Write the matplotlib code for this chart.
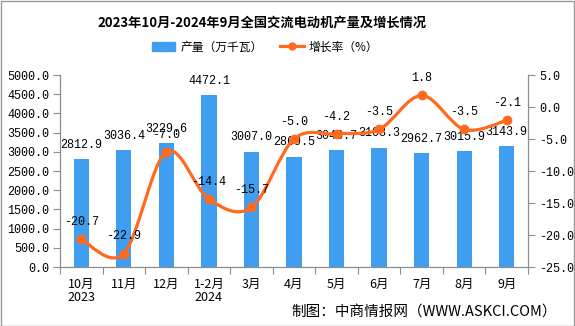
import numpy as np
import matplotlib
matplotlib.use("Agg")
import matplotlib.pyplot as plt
from matplotlib.path import Path
from matplotlib.patches import PathPatch, Rectangle
from matplotlib.lines import Line2D
from matplotlib.patches import Patch

plt.rcParams['font.family'] = ['Noto Sans CJK SC', 'DejaVu Sans']

# data
months = ['10月\n2023', '11月', '12月', '1-2月\n2024', '3月', '4月', '5月',
          '6月', '7月', '8月', '9月']
output = [2812.9, 3036.4, 3229.6, 4472.1, 3007.0, 2869.5, 3046.7,
          3108.3, 2962.7, 3015.9, 3143.9]
growth = [-20.7, -22.9, -7.0, -14.4, -15.7, -5.0, -4.2, -3.5, 1.8, -3.5, -2.1]

BAR = '#3F9EF0'
LINE = '#FF6A1F'
AXC = '#8C8C8C'
NUM = 'Liberation Mono'

fig = plt.figure(figsize=(5.75, 3.26), dpi=100)
W, H = 575, 326
ax = fig.add_axes([60 / W, 1 - 267 / H, 468 / W, 192 / H])
ax2 = ax.twinx()

x = np.arange(len(months))
ax.bar(x, output, width=0.36, color=BAR, zorder=2)
ax.set_xlim(-0.5, len(months) - 0.5)
ax.set_ylim(0, 5000)
ax.set_yticks(np.arange(0, 5001, 500))
ax.set_yticklabels(['%.1f' % v for v in np.arange(0, 5001, 500)],
                   family=NUM, fontsize=8.5)

for xi, v in zip(x, output):
    ax.annotate('%.1f' % v, (xi, v), xytext=(0, 6), textcoords='offset points',
                ha='center', va='bottom', family=NUM, fontsize=8.5)

# smoothed growth line (Catmull-Rom as cubic Bezier)
pts = np.column_stack([x, growth]).astype(float)
verts = [pts[0]]
codes = [Path.MOVETO]
n = len(pts)
for i in range(n - 1):
    p0 = pts[max(i - 1, 0)]
    p1 = pts[i]
    p2 = pts[i + 1]
    p3 = pts[min(i + 2, n - 1)]
    verts += [p1 + (p2 - p0) / 6, p2 - (p3 - p1) / 6, p2]
    codes += [Path.CURVE4] * 3
ax2.add_patch(PathPatch(Path(verts, codes), facecolor='none', edgecolor=LINE,
                        lw=2.3, zorder=3))
ax2.plot(x, growth, 'o', color=LINE, ms=6, zorder=4)
for xi, v in zip(x, growth):
    ax2.annotate('%.1f' % v, (xi, v), xytext=(0, 8), textcoords='offset points',
                 ha='center', va='bottom', family=NUM, fontsize=8.5)

ax2.set_ylim(-25, 5)
ax2.set_yticks(np.arange(-25, 6, 5))
ax2.set_yticklabels(['%.1f' % v for v in np.arange(-25, 6, 5)],
                    family=NUM, fontsize=8.5)

# x ticks at category boundaries, labels at centers
ax.set_xticks(np.arange(-0.5, len(months), 1))
ax.set_xticklabels([])
ax.set_xticks(x, minor=True)
ax.set_xticklabels(months, minor=True, fontsize=9, linespacing=1.0)
ax.tick_params(axis='x', which='minor', length=0, pad=8)
ax.tick_params(axis='x', which='major', length=5, color=AXC)
ax.tick_params(axis='y', length=5, color=AXC, pad=3)
ax2.tick_params(axis='y', length=5, color=AXC, pad=3)

for a in (ax, ax2):
    a.spines['top'].set_visible(False)
    for s in ('left', 'right', 'bottom'):
        a.spines[s].set_color(AXC)

fig.text(262 / W, 1 - 22 / H, '2023年10月-2024年9月全国交流电动机产量及增长情况',
         ha='center', va='center', fontsize=9.5, fontweight='bold')

handles = [Patch(color=BAR),
           Line2D([], [], color=LINE, lw=2.3, marker='o', ms=5)]
fig.legend(handles, ['产量（万千瓦）', '增长率（%）'], loc='center',
           bbox_to_anchor=(265 / W, 1 - 47 / H), ncol=2, frameon=False,
           fontsize=8.5, handlelength=2.0, columnspacing=1.5, handletextpad=0.4)

fig.text(557 / W, 1 - 312 / H, '制图：中商情报网（WWW.ASKCI.COM）',
         ha='right', va='center', fontsize=10.5)

fig.add_artist(Rectangle((0.5 / W, 0.5 / H), 1 - 1.5 / W, 1 - 1.5 / H,
                         transform=fig.transFigure, fill=False,
                         edgecolor='#999999', lw=1))

fig.savefig('out.png', dpi=100)
